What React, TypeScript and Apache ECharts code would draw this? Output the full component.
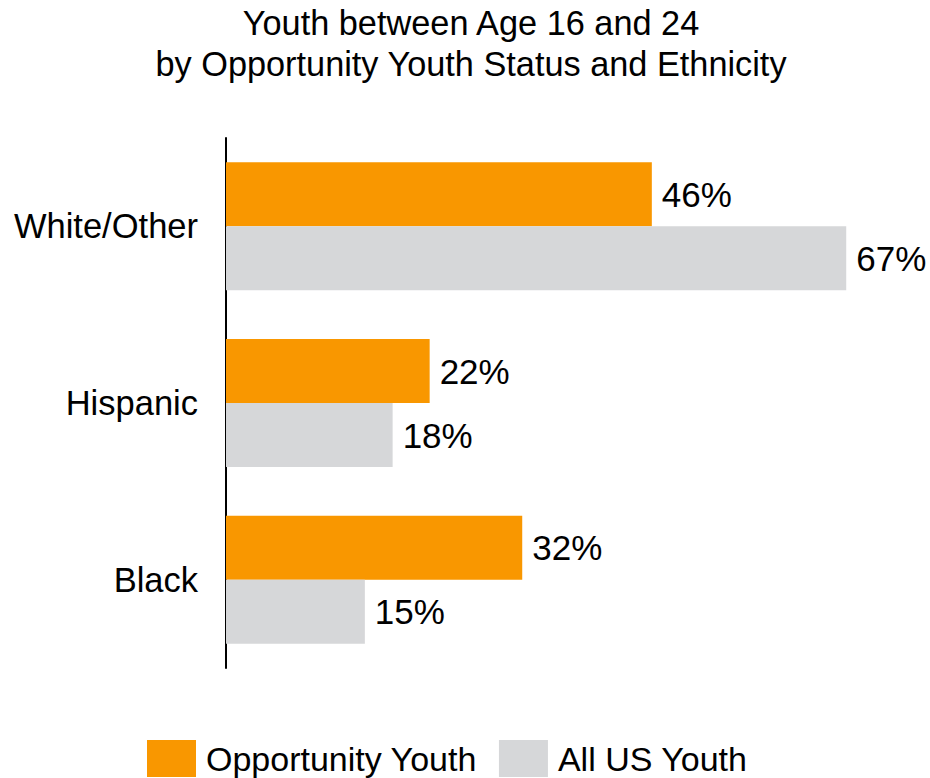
import React, { useEffect, useRef } from "react";
import * as echarts from "echarts";

const categories = ["White/Other", "Hispanic", "Black"];
const opportunityYouth = [46, 22, 32];
const allUsYouth = [67, 18, 15];
const seriesNames = ["Opportunity Youth", "All US Youth"];
const titleLines = ["Youth between Age 16 and 24", "by Opportunity Youth Status and Ethnicity"];

const FONT = "'Liberation Sans', Arial, Helvetica, sans-serif";
const ORANGE = "#F99700";
const GRAY = "#D6D7D9";

export default function App() {
  const ref = useRef<HTMLDivElement>(null);
  useEffect(() => {
    if (!ref.current) return;
    const chart = echarts.init(ref.current, null, { renderer: "svg" });
    const labelCfg = {
      show: true,
      position: "right",
      distance: 10,
      formatter: (p: any) => `${p.value}%`,
      fontSize: 35,
      fontFamily: FONT,
      color: "#000",
    };
    chart.setOption({
      animation: false,
      backgroundColor: "#fff",
      title: {
        text: titleLines.join("\n"),
        left: 471,
        top: 2,
        textAlign: "center",
        padding: 0,
        textStyle: {
          fontSize: 34.3,
          fontWeight: "normal",
          fontFamily: FONT,
          color: "#000",
          lineHeight: 41,
        },
      },
      legend: {
        left: 147,
        top: 740,
        padding: 0,
        itemWidth: 49,
        itemHeight: 37,
        itemGap: 22,
        icon: "rect",
        data: seriesNames,
        textStyle: {
          fontSize: 34,
          fontFamily: FONT,
          color: "#000",
          lineHeight: 37,
          padding: [0, 0, 0, 5],
        },
      },
      grid: { left: 226, right: 56, top: 138, bottom: 110, containLabel: false },
      xAxis: {
        type: "value",
        min: 0,
        max: 70,
        show: false,
        splitLine: { show: false },
      },
      yAxis: {
        type: "category",
        data: categories,
        inverse: true,
        axisLine: { show: true, lineStyle: { color: "#000", width: 2 } },
        axisTick: { show: false },
        axisLabel: {
          fontSize: 34.5,
          fontFamily: FONT,
          color: "#000",
          margin: 28,
        },
      },
      series: [
        {
          name: seriesNames[0],
          type: "bar",
          data: opportunityYouth,
          barWidth: 64,
          barGap: "0%",
          itemStyle: { color: ORANGE },
          label: labelCfg,
        },
        {
          name: seriesNames[1],
          type: "bar",
          data: allUsYouth,
          barWidth: 64,
          barGap: "0%",
          itemStyle: { color: GRAY },
          label: labelCfg,
        },
      ],
    });
    return () => chart.dispose();
  }, []);
  return (
    <div
      ref={ref}
      style={{ position: "fixed", left: 0, top: 0, width: 930, height: 778 }}
    />
  );
}
